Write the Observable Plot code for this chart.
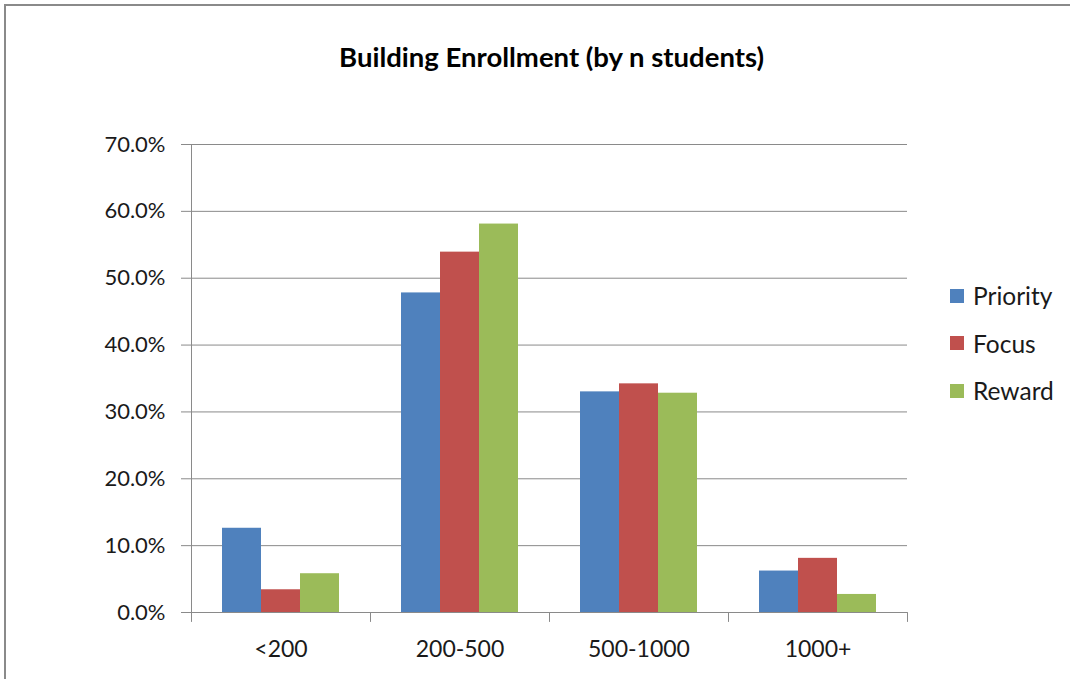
<!DOCTYPE html>
<html>
<head>
<meta charset="utf-8">
<script src="https://cdn.jsdelivr.net/npm/d3@7"></script>
<script src="https://cdn.jsdelivr.net/npm/@observablehq/plot@0.6"></script>
<style>
  html, body { margin: 0; padding: 0; background: #fff; }
  #wrap { position: relative; width: 1070px; height: 679px; overflow: hidden; background: #fff; font-family: Lato, "Open Sans", sans-serif; }
  #border { position: absolute; left: 4px; top: 4px; right: -10px; bottom: -10px; border-top: 2px solid #8a8a8a; border-left: 2px solid #8a8a8a; pointer-events: none; }
  #chart { position: absolute; left: 0; top: 0; }
  #title { position: absolute; left: 0; width: 1103px; top: 40px; text-align: center; font-weight: bold; font-size: 27.5px; color: #000; white-space: nowrap; }
  #legend { position: absolute; left: 950px; top: 272px; font-size: 24.5px; color: #1a1a1a; }
  .item { display: flex; align-items: center; height: 47.5px; }
  .sw { width: 14px; height: 14px; margin-right: 9px; flex: none; }
</style>
</head>
<body>
<div id="wrap">
  <div id="chart"></div>
  <div id="title"></div>
  <div id="legend"></div>
  <div id="border"></div>
</div>
<script>
const titleText = "Building Enrollment (by n students)";
const categories = ["<200", "200-500", "500-1000", "1000+"];
const series = ["Priority", "Focus", "Reward"];
const priority = [12.6, 47.8, 33.0, 6.2];
const focus = [3.4, 53.9, 34.2, 8.1];
const reward = [5.8, 58.1, 32.8, 2.7];
const colors = ["#4F81BD", "#C0504D", "#9BBB59"];
const yTicks = [0, 10, 20, 30, 40, 50, 60, 70];

const seriesValues = [priority, focus, reward];
const data = categories.flatMap((c, i) =>
  series.map((s, j) => ({category: c, series: s, value: seriesValues[j][i]}))
);

const grey = "#8a8a8a";
const tickShape = {draw(context, l) { context.moveTo(0, 0); context.lineTo(0, -l); }};

const chart = Plot.plot({
  width: 1070,
  height: 679,
  marginLeft: 191,
  marginRight: 163,
  marginTop: 144,
  marginBottom: 67,
  style: {fontFamily: "Lato, 'Open Sans', sans-serif", fontSize: "22px", color: "#1a1a1a", background: "transparent", overflow: "visible"},
  fx: {domain: categories, padding: 0, label: null, axis: null},
  x: {domain: series, paddingInner: 0, paddingOuter: 0.75, axis: null},
  y: {domain: [0, 70], label: null},
  color: {domain: series, range: colors},
  marks: [
    Plot.gridY(yTicks, {stroke: grey, strokeOpacity: 1, strokeWidth: 1}),
    Plot.barY(data, {fx: "category", x: "series", y: "value", fill: "series"}),
    Plot.ruleY([0], {stroke: grey, strokeWidth: 1}),
    Plot.frame({anchor: "left", fx: categories[0], stroke: grey, strokeWidth: 1}),
    Plot.vector(categories, {fx: d => d, frameAnchor: "bottom-left", anchor: "start", rotate: 180, length: 9, shape: tickShape, stroke: grey, strokeWidth: 1}),
    Plot.vector([categories[categories.length - 1]], {fx: d => d, frameAnchor: "bottom-right", anchor: "start", rotate: 180, length: 9, shape: tickShape, stroke: grey, strokeWidth: 1}),
    Plot.axisY(yTicks, {tickSize: 10, tickPadding: 16, stroke: grey, fill: "#1a1a1a", tickFormat: d => d.toFixed(1) + "%", label: null}),
    Plot.axisFx({anchor: "bottom", tickSize: 0, tickPadding: 28, fill: "#1a1a1a", fontSize: 23, label: null})
  ]
});
document.getElementById("chart").appendChild(chart);
document.getElementById("title").textContent = titleText;

const legend = document.getElementById("legend");
series.forEach((s, i) => {
  const item = document.createElement("div");
  item.className = "item";
  const sw = document.createElement("span");
  sw.className = "sw";
  sw.style.background = colors[i];
  const label = document.createElement("span");
  label.textContent = s;
  item.appendChild(sw);
  item.appendChild(label);
  legend.appendChild(item);
});
</script>
</body>
</html>
